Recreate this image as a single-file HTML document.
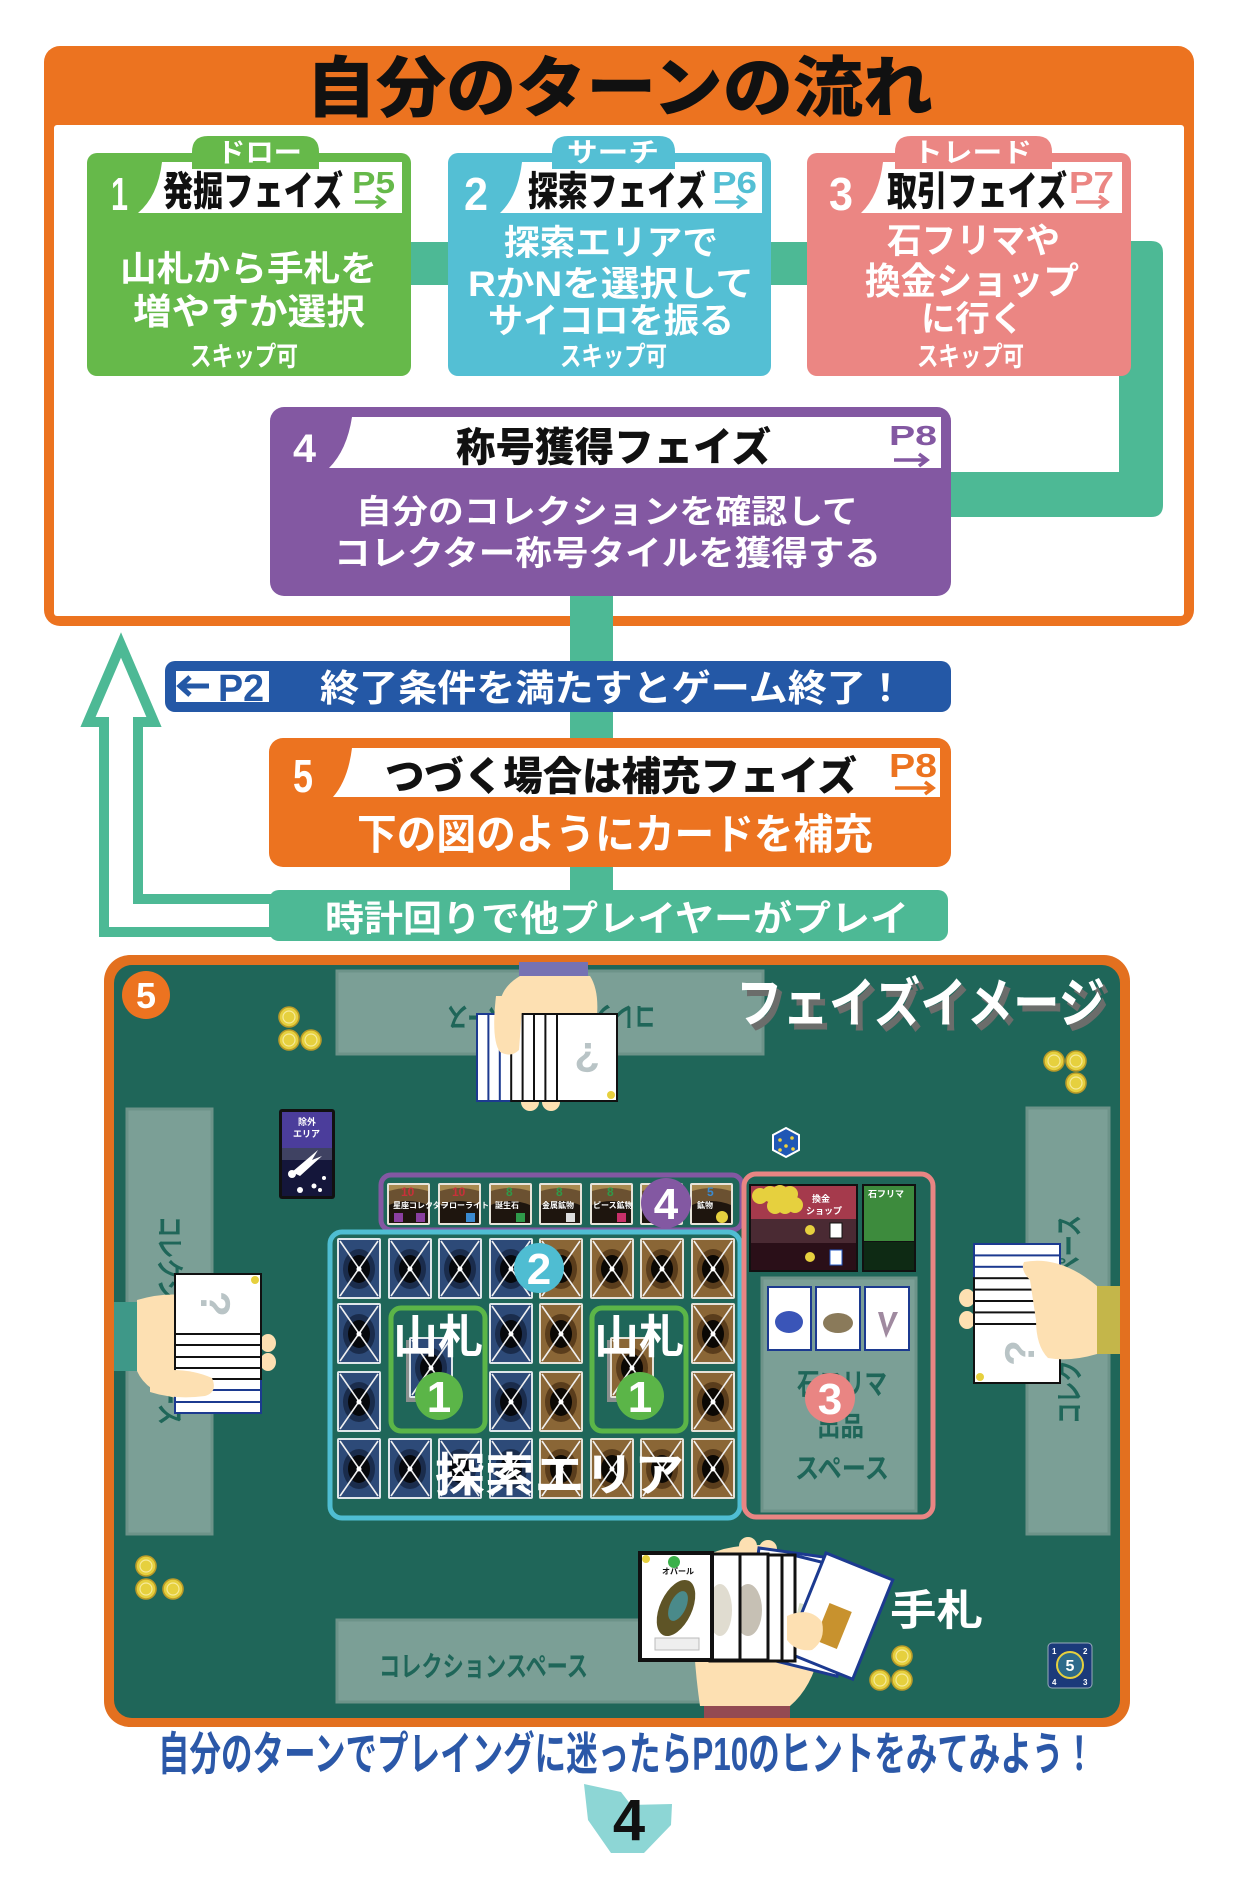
<!DOCTYPE html>
<html><head><meta charset="utf-8">
<style>
html,body{margin:0;padding:0;background:#fff;}
svg{display:block}
text{font-family:"Liberation Sans","Noto Sans CJK JP",sans-serif;font-weight:700}
.k{font-weight:900}
.l{font-family:"Liberation Sans",sans-serif;font-weight:700}
</style></head><body>
<svg width="1244" height="1890" viewBox="0 0 1244 1890" xmlns="http://www.w3.org/2000/svg">
<defs>
<g id="cb">
<rect width="44" height="61" rx="2" fill="#dfe6ea"/>
<rect x="2" y="2" width="40" height="57" fill="#2d4a78"/>
<ellipse cx="22" cy="31" rx="16" ry="20" fill="#1a2c4c"/>
<ellipse cx="22" cy="31" rx="11" ry="14" fill="#06080c"/>
<path d="M3 3 L41 58 M41 3 L3 58" stroke="#f0f0f0" stroke-width="1.6"/>
<circle cx="22" cy="31" r="2.5" fill="#fff"/>
</g>
<g id="cr">
<rect width="44" height="61" rx="2" fill="#e6e2d8"/>
<rect x="2" y="2" width="40" height="57" fill="#8a6636"/>
<ellipse cx="22" cy="31" rx="16" ry="20" fill="#5a3d1c"/>
<ellipse cx="22" cy="31" rx="11" ry="14" fill="#0b0804"/>
<path d="M3 3 L41 58 M41 3 L3 58" stroke="#f0f0f0" stroke-width="1.6"/>
<circle cx="22" cy="31" r="2.5" fill="#fff"/>
</g>
<g id="tl">
<rect width="43" height="42" rx="2" fill="#e8e4da"/>
<rect x="2" y="2" width="39" height="38" fill="#1e150e"/>
<path d="M2 2 H41 V22 Q21 14 2 22 Z" fill="#6b5131"/>
<path d="M2 2 H41 V8 Q21 2 2 8 Z" fill="#a88a50"/>
</g>
<g id="coin"><circle r="10" fill="#e6d03e" stroke="#b99a28" stroke-width="1.6"/><circle r="6" fill="none" stroke="#f6ea9a" stroke-width="1.2"/></g>
</defs>

<!-- ===== top frame ===== -->
<rect x="44" y="46" width="1150" height="580" rx="16" fill="#ec7320"/>
<rect x="54" y="125" width="1130" height="491" rx="3" fill="#fff"/>
<text class="k" x="306" y="111" font-size="66" textLength="627" lengthAdjust="spacingAndGlyphs" fill="#111">自分のターンの流れ</text>

<!-- connectors -->
<rect x="400" y="242" width="60" height="43" fill="#4db995"/>
<rect x="760" y="242" width="60" height="43" fill="#4db995"/>
<path d="M1119 241 H1151 Q1163 241 1163 253 V505 Q1163 517 1151 517 H940 V472 H1119 Z" fill="#4db995"/>
<rect x="570" y="585" width="43" height="310" fill="#4db995"/>

<!-- box 1 -->
<rect x="87" y="153" width="324" height="223" rx="10" fill="#66b94a"/>
<path d="M138 213 Q158 196 162 162 H402 V213 Z" fill="#fff"/>
<path d="M192 169 V152 Q192 136 208 136 H303 Q319 136 319 152 V169 Z" fill="#66b94a"/>
<text x="217" y="162" font-size="27" textLength="85" lengthAdjust="spacingAndGlyphs" fill="#fff">ドロー</text>
<text class="l" x="111" y="210" font-size="46" textLength="17" lengthAdjust="spacingAndGlyphs" fill="#fff">1</text>
<text class="k" x="163" y="205" font-size="40" textLength="180" lengthAdjust="spacingAndGlyphs" fill="#111">発掘フェイズ</text>
<text class="l" x="352" y="193" font-size="31" textLength="43" lengthAdjust="spacingAndGlyphs" fill="#66b94a">P5</text>
<path d="M355 202 H383 M376 196 L384 202 L376 208" stroke="#66b94a" stroke-width="3.5" fill="none"/>
<text x="120" y="281" font-size="35" textLength="257" lengthAdjust="spacingAndGlyphs" fill="#fff">山札から手札を</text>
<text x="133" y="324" font-size="36" textLength="232" lengthAdjust="spacingAndGlyphs" fill="#fff">増やすか選択</text>
<text x="190" y="366" font-size="27" textLength="108" lengthAdjust="spacingAndGlyphs" fill="#fff">スキップ可</text>

<!-- box 2 -->
<rect x="448" y="153" width="323" height="223" rx="10" fill="#54bfd4"/>
<path d="M500 213 Q518 196 522 162 H762 V213 Z" fill="#fff"/>
<path d="M552 169 V152 Q552 136 568 136 H659 Q675 136 675 152 V169 Z" fill="#54bfd4"/>
<text x="567" y="162" font-size="27" textLength="92" lengthAdjust="spacingAndGlyphs" fill="#fff">サーチ</text>
<text class="l" x="464" y="210" font-size="46" textLength="24" lengthAdjust="spacingAndGlyphs" fill="#fff">2</text>
<text class="k" x="528" y="205" font-size="40" textLength="178" lengthAdjust="spacingAndGlyphs" fill="#111">探索フェイズ</text>
<text class="l" x="712" y="193" font-size="31" textLength="45" lengthAdjust="spacingAndGlyphs" fill="#54bfd4">P6</text>
<path d="M715 202 H744 M737 196 L745 202 L737 208" stroke="#54bfd4" stroke-width="3.5" fill="none"/>
<text x="504" y="255" font-size="35" textLength="214" lengthAdjust="spacingAndGlyphs" fill="#fff">探索エリアで</text>
<text x="468" y="296" font-size="35" textLength="286" lengthAdjust="spacingAndGlyphs" fill="#fff">RかNを選択して</text>
<text x="488" y="333" font-size="35" textLength="246" lengthAdjust="spacingAndGlyphs" fill="#fff">サイコロを振る</text>
<text x="560" y="366" font-size="27" textLength="107" lengthAdjust="spacingAndGlyphs" fill="#fff">スキップ可</text>

<!-- box 3 -->
<rect x="807" y="153" width="324" height="223" rx="10" fill="#eb8683"/>
<path d="M861 213 Q879 196 883 162 H1122 V213 Z" fill="#fff"/>
<path d="M895 169 V152 Q895 136 911 136 H1036 Q1052 136 1052 152 V169 Z" fill="#eb8683"/>
<text x="913" y="162" font-size="27" textLength="119" lengthAdjust="spacingAndGlyphs" fill="#fff">トレード</text>
<text class="l" x="829" y="210" font-size="46" textLength="24" lengthAdjust="spacingAndGlyphs" fill="#fff">3</text>
<text class="k" x="887" y="205" font-size="40" textLength="180" lengthAdjust="spacingAndGlyphs" fill="#111">取引フェイズ</text>
<text class="l" x="1069" y="193" font-size="31" textLength="45" lengthAdjust="spacingAndGlyphs" fill="#eb8683">P7</text>
<path d="M1076 202 H1106 M1099 196 L1107 202 L1099 208" stroke="#eb8683" stroke-width="3.5" fill="none"/>
<text x="887" y="253" font-size="35" textLength="173" lengthAdjust="spacingAndGlyphs" fill="#fff">石フリマや</text>
<text x="865" y="294" font-size="37" textLength="214" lengthAdjust="spacingAndGlyphs" fill="#fff">換金ショップ</text>
<text x="921" y="331" font-size="35" textLength="103" lengthAdjust="spacingAndGlyphs" fill="#fff">に行く</text>
<text x="917" y="366" font-size="27" textLength="107" lengthAdjust="spacingAndGlyphs" fill="#fff">スキップ可</text>

<!-- box 4 -->
<rect x="270" y="407" width="681" height="189" rx="14" fill="#8358a2"/>
<path d="M329 468 Q347 450 352 417 H941 V468 Z" fill="#fff"/>
<text class="l" x="293" y="462" font-size="40" textLength="23" lengthAdjust="spacingAndGlyphs" fill="#fff">4</text>
<text class="k" x="456" y="461" font-size="40" textLength="315" lengthAdjust="spacingAndGlyphs" fill="#111">称号獲得フェイズ</text>
<text class="l" x="889" y="445" font-size="28" textLength="48" lengthAdjust="spacingAndGlyphs" fill="#8358a2">P8</text>
<path d="M894 460 H926 M919 454 L927 460 L919 466" stroke="#8358a2" stroke-width="3.5" fill="none"/>
<text x="356" y="523" font-size="33" textLength="502" lengthAdjust="spacingAndGlyphs" fill="#fff">自分のコレクションを確認して</text>
<text x="334" y="565" font-size="34" textLength="547" lengthAdjust="spacingAndGlyphs" fill="#fff">コレクター称号タイルを獲得する</text>

<!-- back arrow -->
<path d="M272 899 H138 V722 H154 L121 645 L88 722 H104 V932 H272" stroke="#4db995" stroke-width="10" fill="none"/>

<!-- blue bar -->
<rect x="165" y="661" width="786" height="51" rx="10" fill="#2458a6"/>
<rect x="176" y="671" width="93" height="31" fill="#fff"/>
<path d="M180 686 H209 M190 677 L180 686 L190 695" stroke="#2458a6" stroke-width="5" fill="none"/>
<text class="l" x="218" y="701" font-size="38" textLength="46" lengthAdjust="spacingAndGlyphs" fill="#2458a6">P2</text>
<text x="320" y="701" font-size="37" textLength="585" lengthAdjust="spacingAndGlyphs" fill="#fff">終了条件を満たすとゲーム終了！</text>

<!-- box 5 -->
<rect x="269" y="738" width="682" height="129" rx="14" fill="#ec7320"/>
<path d="M333 797 Q348 780 352 748 H940 V797 Z" fill="#fff"/>
<text class="l" x="293" y="792" font-size="46" textLength="20" lengthAdjust="spacingAndGlyphs" fill="#fff">5</text>
<text class="k" x="385" y="790" font-size="40" textLength="472" lengthAdjust="spacingAndGlyphs" fill="#111">つづく場合は補充フェイズ</text>
<text class="l" x="889" y="777" font-size="33" textLength="48" lengthAdjust="spacingAndGlyphs" fill="#ec7320">P8</text>
<path d="M895 788 H932 M925 782 L933 788 L925 794" stroke="#ec7320" stroke-width="3.5" fill="none"/>
<text x="357" y="849" font-size="42" textLength="516" lengthAdjust="spacingAndGlyphs" fill="#fff">下の図のようにカードを補充</text>

<!-- green bar -->
<rect x="269" y="890" width="679" height="51" rx="10" fill="#4db995"/>
<text x="325" y="931" font-size="36" textLength="584" lengthAdjust="spacingAndGlyphs" fill="#fff">時計回りで他プレイヤーがプレイ</text>

<!-- ===== board ===== -->
<rect x="104" y="955" width="1026" height="772" rx="26" fill="#e3701f"/>
<rect x="114" y="965" width="1006" height="753" rx="18" fill="#1f6659"/>

<rect x="337" y="971" width="426" height="83" fill="#7b9f96" stroke="#6d9389" stroke-width="3"/>
<rect x="127" y="1109" width="85" height="425" fill="#7b9f96" stroke="#6d9389" stroke-width="3"/>
<rect x="1027" y="1108" width="82" height="426" fill="#7b9f96" stroke="#6d9389" stroke-width="3"/>
<rect x="337" y="1620" width="426" height="82" fill="#7b9f96" stroke="#6d9389" stroke-width="3"/>
<text x="379" y="1676" font-size="28" textLength="209" lengthAdjust="spacingAndGlyphs" fill="#1f6659">コレクションスペース</text>
<text transform="translate(552,1017) rotate(180)" x="-104" y="10" font-size="28" textLength="209" lengthAdjust="spacingAndGlyphs" fill="#1f6659">コレクションスペース</text>
<text transform="translate(170,1320) rotate(90)" x="-104" y="10" font-size="28" textLength="209" lengthAdjust="spacingAndGlyphs" fill="#1f6659">コレクションスペース</text>
<text transform="translate(1069,1320) rotate(-90)" x="-104" y="10" font-size="28" textLength="209" lengthAdjust="spacingAndGlyphs" fill="#1f6659">コレクションスペース</text>

<circle cx="146" cy="995" r="24" fill="#ec7320"/>
<text class="l" x="146" y="1008" font-size="36" text-anchor="middle" fill="#fff">5</text>

<text x="741" y="1028" font-size="54" textLength="369" lengthAdjust="spacingAndGlyphs" fill="#6b6d6b">フェイズイメージ</text>
<text x="736" y="1022" font-size="54" textLength="369" lengthAdjust="spacingAndGlyphs" fill="#fff">フェイズイメージ</text>

<!-- coins -->
<use href="#coin" x="289" y="1017"/>
<use href="#coin" x="289" y="1040"/>
<use href="#coin" x="311" y="1040"/>
<use href="#coin" x="1054" y="1061"/>
<use href="#coin" x="1076" y="1061"/>
<use href="#coin" x="1076" y="1083"/>
<use href="#coin" x="146" y="1566"/>
<use href="#coin" x="146" y="1589"/>
<use href="#coin" x="173" y="1589"/>
<use href="#coin" x="902" y="1656"/>
<use href="#coin" x="880" y="1680"/>
<use href="#coin" x="902" y="1680"/>

<!-- exclusion card -->
<rect x="279" y="1109" width="56" height="90" rx="3" fill="#111"/>
<rect x="282" y="1112" width="50" height="36" fill="#4b3d9b"/>
<rect x="282" y="1148" width="50" height="12" fill="#3f4262"/>
<rect x="282" y="1160" width="50" height="36" fill="#14163a"/>
<text x="298" y="1125" font-size="9" fill="#fff">除外</text>
<text x="293" y="1137" font-size="9" fill="#fff">エリア</text>
<path d="M292 1172 L318 1150 L312 1160 L322 1156 L300 1176 Z" fill="#fff"/>
<circle cx="292" cy="1174" r="4" fill="#fff"/><circle cx="300" cy="1190" r="3" fill="#fff"/><circle cx="314" cy="1186" r="2.5" fill="#fff"/><circle cx="324" cy="1178" r="2" fill="#fff"/><circle cx="320" cy="1190" r="2" fill="#fff"/>

<!-- dice -->
<polygon points="786,1128 799,1135 799,1150 786,1157 773,1150 773,1135" fill="#1f57b5" stroke="#fff" stroke-width="2"/>
<circle cx="780" cy="1140" r="1.8" fill="#f2d23a"/><circle cx="792" cy="1138" r="1.8" fill="#f2d23a"/><circle cx="786" cy="1146" r="1.8" fill="#f2d23a"/><circle cx="780" cy="1150" r="1.8" fill="#f2d23a"/><circle cx="793" cy="1149" r="1.8" fill="#f2d23a"/>

<!-- title tiles -->
<rect x="381" y="1175" width="361" height="55" rx="10" fill="none" stroke="#8358a2" stroke-width="5"/>
<use href="#tl" x="387" y="1183"/><use href="#tl" x="438" y="1183"/><use href="#tl" x="489" y="1183"/><use href="#tl" x="539" y="1183"/><use href="#tl" x="590" y="1183"/><use href="#tl" x="640" y="1183"/><use href="#tl" x="690" y="1183"/>
<text class="l" x="401" y="1196" font-size="12" fill="#c9303a">10</text>
<text class="l" x="452" y="1196" font-size="12" fill="#c9303a">10</text>
<text class="l" x="506" y="1196" font-size="12" fill="#2f9a4a">8</text>
<text class="l" x="556" y="1196" font-size="12" fill="#2f9a4a">8</text>
<text class="l" x="607" y="1196" font-size="12" fill="#2f9a4a">8</text>
<text class="l" x="707" y="1196" font-size="12" fill="#3a8ad0">5</text>
<text x="393" y="1208" font-size="8" fill="#fff">星座コレクター</text>
<text x="441" y="1208" font-size="8" fill="#fff">フローライト</text>
<text x="495" y="1208" font-size="8" fill="#fff">誕生石</text>
<text x="542" y="1208" font-size="8" fill="#fff">金属鉱物</text>
<text x="593" y="1208" font-size="8" fill="#fff">ピース鉱物</text>
<text x="697" y="1208" font-size="8" fill="#fff">鉱物</text>
<rect x="394" y="1213" width="9" height="9" fill="#8a3fa0"/><rect x="416" y="1213" width="9" height="9" fill="#8a3fa0"/>
<rect x="466" y="1213" width="9" height="9" fill="#3a8ad0"/><rect x="516" y="1213" width="9" height="9" fill="#2f9a4a"/>
<rect x="566" y="1213" width="9" height="9" fill="#ddd"/><rect x="617" y="1213" width="9" height="9" fill="#c9306a"/>
<circle cx="722" cy="1217" r="6" fill="#e6d03e"/>

<!-- search area -->
<rect x="330" y="1232" width="410" height="286" rx="12" fill="none" stroke="#4fbdd2" stroke-width="5"/>
<use href="#cb" x="337" y="1238"/><use href="#cb" x="388" y="1238"/><use href="#cb" x="438" y="1238"/><use href="#cb" x="489" y="1238"/>
<use href="#cr" x="539" y="1238"/><use href="#cr" x="590" y="1238"/><use href="#cr" x="640" y="1238"/><use href="#cr" x="691" y="1238"/>
<use href="#cb" x="337" y="1303"/><use href="#cb" x="489" y="1303"/><use href="#cr" x="539" y="1303"/><use href="#cr" x="691" y="1303"/>
<use href="#cb" x="337" y="1371"/><use href="#cb" x="489" y="1371"/><use href="#cr" x="539" y="1371"/><use href="#cr" x="691" y="1371"/>
<use href="#cb" x="337" y="1438"/><use href="#cb" x="388" y="1438"/><use href="#cb" x="438" y="1438"/><use href="#cb" x="489" y="1438"/>
<use href="#cr" x="539" y="1438"/><use href="#cr" x="590" y="1438"/><use href="#cr" x="640" y="1438"/><use href="#cr" x="691" y="1438"/>

<rect x="391" y="1308" width="94" height="123" rx="10" fill="#1f6659" stroke="#5bb548" stroke-width="5"/>
<rect x="592" y="1308" width="94" height="123" rx="10" fill="#1f6659" stroke="#5bb548" stroke-width="5"/>
<rect x="406" y="1340" width="44" height="62" fill="#8a8f8e"/>
<use href="#cb" x="409" y="1337"/>
<rect x="607" y="1340" width="44" height="62" fill="#8a8f8e"/>
<use href="#cr" x="610" y="1337"/>
<text x="393" y="1353" font-size="46" textLength="90" lengthAdjust="spacingAndGlyphs" fill="#fff">山札</text>
<text x="594" y="1353" font-size="46" textLength="90" lengthAdjust="spacingAndGlyphs" fill="#fff">山札</text>
<circle cx="439" cy="1396" r="24" fill="#5bb548"/>
<text class="l" x="439" y="1412" font-size="44" text-anchor="middle" fill="#fff">1</text>
<circle cx="640" cy="1396" r="24" fill="#5bb548"/>
<text class="l" x="640" y="1412" font-size="44" text-anchor="middle" fill="#fff">1</text>

<text x="435" y="1491" font-size="46" textLength="249" lengthAdjust="spacingAndGlyphs" fill="#fff">探索エリア</text>

<circle cx="539" cy="1268" r="25" fill="#4fbdd2"/>
<text class="l" x="539" y="1284" font-size="44" text-anchor="middle" fill="#fff">2</text>
<circle cx="666" cy="1203" r="25" fill="#8358a2"/>
<text class="l" x="666" y="1219" font-size="44" text-anchor="middle" fill="#fff">4</text>

<!-- trade area -->
<rect x="744" y="1174" width="189" height="343" rx="12" fill="none" stroke="#e98583" stroke-width="5"/>
<rect x="762" y="1278" width="154" height="233" fill="#7b9f96" stroke="#6d9389" stroke-width="3"/>
<rect x="749" y="1184" width="109" height="88" fill="#111"/>
<rect x="751" y="1186" width="105" height="33" fill="#a53a4c"/>
<rect x="751" y="1219" width="105" height="24" fill="#4a2a33"/>
<rect x="751" y="1243" width="105" height="27" fill="#2a0f18"/>
<circle cx="760" cy="1196" r="8" fill="#e6d03e"/><circle cx="770" cy="1194" r="8" fill="#e6d03e"/><circle cx="780" cy="1193" r="8" fill="#e6d03e"/><circle cx="790" cy="1194" r="8" fill="#e6d03e"/>
<circle cx="775" cy="1206" r="8" fill="#e6d03e"/><circle cx="785" cy="1206" r="8" fill="#e6d03e"/><circle cx="795" cy="1205" r="8" fill="#e6d03e"/>
<text x="812" y="1202" font-size="9" fill="#fff">換金</text>
<text x="806" y="1214" font-size="9" fill="#fff">ショップ</text>
<circle cx="810" cy="1230" r="5" fill="#e6d03e"/><rect x="830" y="1223" width="12" height="15" fill="#fff" stroke="#111"/>
<circle cx="810" cy="1257" r="5" fill="#e6d03e"/><rect x="830" y="1250" width="12" height="15" fill="#fff" stroke="#2458c6"/>
<rect x="862" y="1184" width="54" height="88" fill="#111"/>
<rect x="864" y="1186" width="50" height="55" fill="#3d8b3d"/>
<rect x="864" y="1242" width="50" height="28" fill="#0e2a14"/>
<text x="868" y="1197" font-size="9" fill="#fff">石フリマ</text>
<rect x="768" y="1287" width="43" height="63" fill="#fff" stroke="#1c3a90" stroke-width="2"/>
<rect x="816" y="1287" width="44" height="63" fill="#fff" stroke="#1c3a90" stroke-width="2"/>
<rect x="865" y="1287" width="44" height="63" fill="#fff" stroke="#1c3a90" stroke-width="2"/>
<ellipse cx="789" cy="1322" rx="14" ry="11" fill="#3a55b8"/>
<ellipse cx="838" cy="1323" rx="15" ry="10" fill="#8a7a5a"/>
<path d="M878 1312 L886 1338 L898 1312 L893 1312 L887 1328 L883 1312 Z" fill="#a08aa0"/>
<text x="797" y="1394" font-size="29" textLength="90" lengthAdjust="spacingAndGlyphs" fill="#1f6659">石フリマ</text>
<text x="817" y="1436" font-size="27" textLength="47" lengthAdjust="spacingAndGlyphs" fill="#1f6659">出品</text>
<text x="795" y="1478" font-size="28" textLength="94" lengthAdjust="spacingAndGlyphs" fill="#1f6659">スペース</text>
<circle cx="830" cy="1398" r="25" fill="#e98583"/>
<text class="l" x="830" y="1414" font-size="44" text-anchor="middle" fill="#fff">3</text>

<!-- top player's hand -->
<rect x="519" y="962" width="69" height="14" fill="#7672b3"/>
<path d="M520 976 H590 Q599 990 597 1016 H500 Q496 990 520 976 Z" fill="#fde0b2"/>
<circle cx="530" cy="1102" r="9" fill="#fde0b2"/><circle cx="551" cy="1102" r="9" fill="#fde0b2"/>
<rect x="477" y="1014" width="60" height="87" fill="#fff" stroke="#1c3a90" stroke-width="2"/>
<rect x="488.4" y="1014" width="60" height="87" fill="#fff" stroke="#1c3a90" stroke-width="2"/>
<rect x="499.8" y="1014" width="60" height="87" fill="#fff" stroke="#1c3a90" stroke-width="2"/>
<rect x="511.2" y="1014" width="60" height="87" fill="#fff" stroke="#111" stroke-width="2"/>
<rect x="522.6" y="1014" width="60" height="87" fill="#fff" stroke="#111" stroke-width="2"/>
<rect x="534" y="1014" width="60" height="87" fill="#fff" stroke="#111" stroke-width="2"/>
<rect x="545.4" y="1014" width="60" height="87" fill="#fff" stroke="#111" stroke-width="2"/>
<rect x="557" y="1014" width="60" height="87" fill="#fff" stroke="#111" stroke-width="2"/>
<text class="l" transform="translate(587,1057) rotate(180)" x="0" y="14" font-size="42" text-anchor="middle" fill="#b9c4c6">?</text>
<circle cx="611" cy="1095" r="4" fill="#e6d03e"/>
<path d="M496 996 Q491 1040 500 1052 Q511 1058 519 1050 L523 996 Z" fill="#fde0b2"/>

<!-- left player's hand -->
<rect x="114" y="1302" width="23" height="69" fill="#3e9888"/>
<ellipse cx="268" cy="1343" rx="8" ry="9" fill="#fde0b2"/><ellipse cx="268" cy="1362" rx="8" ry="9" fill="#fde0b2"/>
<path d="M137 1300 Q170 1290 200 1298 L262 1330 V1375 Q230 1400 200 1400 Q150 1400 137 1371 Z" fill="#fde0b2"/>
<rect x="175" y="1353" width="86" height="60" fill="#fff" stroke="#1c3a90" stroke-width="2"/>
<rect x="175" y="1342" width="86" height="60" fill="#fff" stroke="#1c3a90" stroke-width="2"/>
<rect x="175" y="1330" width="86" height="60" fill="#fff" stroke="#1c3a90" stroke-width="2"/>
<rect x="175" y="1319" width="86" height="60" fill="#fff" stroke="#111" stroke-width="2"/>
<rect x="175" y="1308" width="86" height="60" fill="#fff" stroke="#111" stroke-width="2"/>
<rect x="175" y="1297" width="86" height="60" fill="#fff" stroke="#111" stroke-width="2"/>
<rect x="175" y="1285" width="86" height="60" fill="#fff" stroke="#111" stroke-width="2"/>
<rect x="175" y="1274" width="86" height="60" fill="#fff" stroke="#111" stroke-width="2"/>
<text class="l" transform="translate(215,1304) rotate(90)" x="0" y="14" font-size="42" text-anchor="middle" fill="#b9c4c6">?</text>
<circle cx="255" cy="1280" r="4" fill="#e6d03e"/>
<path d="M150 1372 Q185 1366 212 1378 Q218 1392 205 1396 Q175 1400 150 1392 Z" fill="#fde0b2"/>

<!-- right player's hand -->
<rect x="1097" y="1286" width="23" height="68" fill="#c4b64a"/>
<ellipse cx="967" cy="1298" rx="8" ry="9" fill="#fde0b2"/><ellipse cx="967" cy="1320" rx="8" ry="9" fill="#fde0b2"/>
<rect x="974" y="1244" width="86" height="59" fill="#fff" stroke="#1c3a90" stroke-width="2"/>
<rect x="974" y="1255.4" width="86" height="59" fill="#fff" stroke="#1c3a90" stroke-width="2"/>
<rect x="974" y="1266.8" width="86" height="59" fill="#fff" stroke="#1c3a90" stroke-width="2"/>
<rect x="974" y="1278.2" width="86" height="59" fill="#fff" stroke="#111" stroke-width="2"/>
<rect x="974" y="1289.6" width="86" height="59" fill="#fff" stroke="#111" stroke-width="2"/>
<rect x="974" y="1301" width="86" height="59" fill="#fff" stroke="#111" stroke-width="2"/>
<rect x="974" y="1312.4" width="86" height="59" fill="#fff" stroke="#111" stroke-width="2"/>
<rect x="974" y="1324" width="86" height="59" fill="#fff" stroke="#111" stroke-width="2"/>
<text class="l" transform="translate(1020,1353) rotate(-90)" x="0" y="14" font-size="42" text-anchor="middle" fill="#b9c4c6">?</text>
<circle cx="980" cy="1377" r="4" fill="#e6d03e"/>
<path d="M1097 1286 V1354 Q1070 1362 1048 1358 Q1036 1346 1036 1320 L1030 1280 Q1020 1270 1024 1262 Q1060 1255 1097 1286 Z" fill="#fde0b2"/>

<!-- bottom (own) hand -->
<rect x="704" y="1705" width="86" height="13" fill="#934a52"/>
<path d="M700 1706 Q694 1665 693 1620 L700 1560 Q720 1545 760 1545 L792 1560 L822 1640 Q815 1685 790 1706 Z" fill="#fde0b2"/>
<circle cx="748" cy="1546" r="9" fill="#fde0b2"/><circle cx="768" cy="1549" r="9" fill="#fde0b2"/>
<g transform="translate(759,1548) rotate(8)"><rect width="72" height="107" fill="#fff" stroke="#1c3a90" stroke-width="3"/><rect x="20" y="50" width="26" height="35" fill="#333"/></g>
<g transform="translate(793,1555) rotate(14)"><rect width="72" height="107" fill="#fff" stroke="#1c3a90" stroke-width="3"/><rect x="18" y="45" width="30" height="40" fill="#d8e0c8"/><circle cx="56" cy="12" r="7" fill="#888"/></g>
<g transform="translate(826,1553) rotate(22)"><rect width="72" height="107" fill="#fff" stroke="#1c3a90" stroke-width="3"/><rect x="22" y="45" width="24" height="40" fill="#c8922e"/></g>
<rect x="723" y="1555" width="72" height="106" fill="#fff" stroke="#111" stroke-width="3"/>
<rect x="710" y="1555" width="72" height="106" fill="#fff" stroke="#111" stroke-width="3"/>
<rect x="696" y="1554" width="72" height="106" fill="#fff" stroke="#111" stroke-width="3"/>
<ellipse cx="748" cy="1610" rx="14" ry="26" fill="#c6c0b4"/>
<rect x="668" y="1554" width="72" height="106" fill="#fff" stroke="#111" stroke-width="3"/>
<ellipse cx="720" cy="1610" rx="12" ry="26" fill="#e0dcd0"/>
<rect x="640" y="1553" width="72" height="107" fill="#fff" stroke="#111" stroke-width="4"/>
<ellipse cx="676" cy="1608" rx="16" ry="30" transform="rotate(25 676 1608)" fill="#5e5426"/>
<ellipse cx="678" cy="1606" rx="8" ry="16" transform="rotate(25 678 1606)" fill="#4a8a8a"/>
<circle cx="674" cy="1562" r="6" fill="#3bb04a"/>
<text x="662" y="1574" font-size="8" fill="#111">オパール</text>
<rect x="655" y="1638" width="44" height="12" fill="#eee" stroke="#bbb"/>
<circle cx="646" cy="1559" r="4" fill="#e6d03e"/>
<path d="M787 1616 Q810 1606 822 1622 Q826 1640 812 1650 Q796 1652 787 1640 Z" fill="#fde0b2"/>

<text x="890" y="1625" font-size="42" textLength="93" lengthAdjust="spacingAndGlyphs" fill="#fff">手札</text>

<!-- score tile -->
<rect x="1048" y="1643" width="44" height="45" rx="4" fill="#1b3a7a" stroke="#9ab" stroke-width="1"/>
<circle cx="1070" cy="1665" r="13" fill="#2d6a8a" stroke="#e6d03e" stroke-width="2"/>
<text class="l" x="1070" y="1671" font-size="16" text-anchor="middle" fill="#fff">5</text>
<text class="l" x="1052" y="1654" font-size="8" fill="#fff">1</text><text class="l" x="1083" y="1654" font-size="8" fill="#fff">2</text>
<text class="l" x="1083" y="1685" font-size="8" fill="#fff">3</text><text class="l" x="1052" y="1685" font-size="8" fill="#fff">4</text>

<!-- footer -->
<text x="158" y="1770" font-size="46" textLength="937" lengthAdjust="spacingAndGlyphs" fill="#2b58a8">自分のターンでプレイングに迷ったらP10のヒントをみてみよう！</text>
<polygon points="584,1784 621,1792 631,1805 672,1804 671,1825 644,1853 611,1853 588,1820" fill="#8dd6d5"/>
<text class="l" x="629" y="1840" font-size="58" text-anchor="middle" fill="#111">4</text>
</svg>
</body></html>
